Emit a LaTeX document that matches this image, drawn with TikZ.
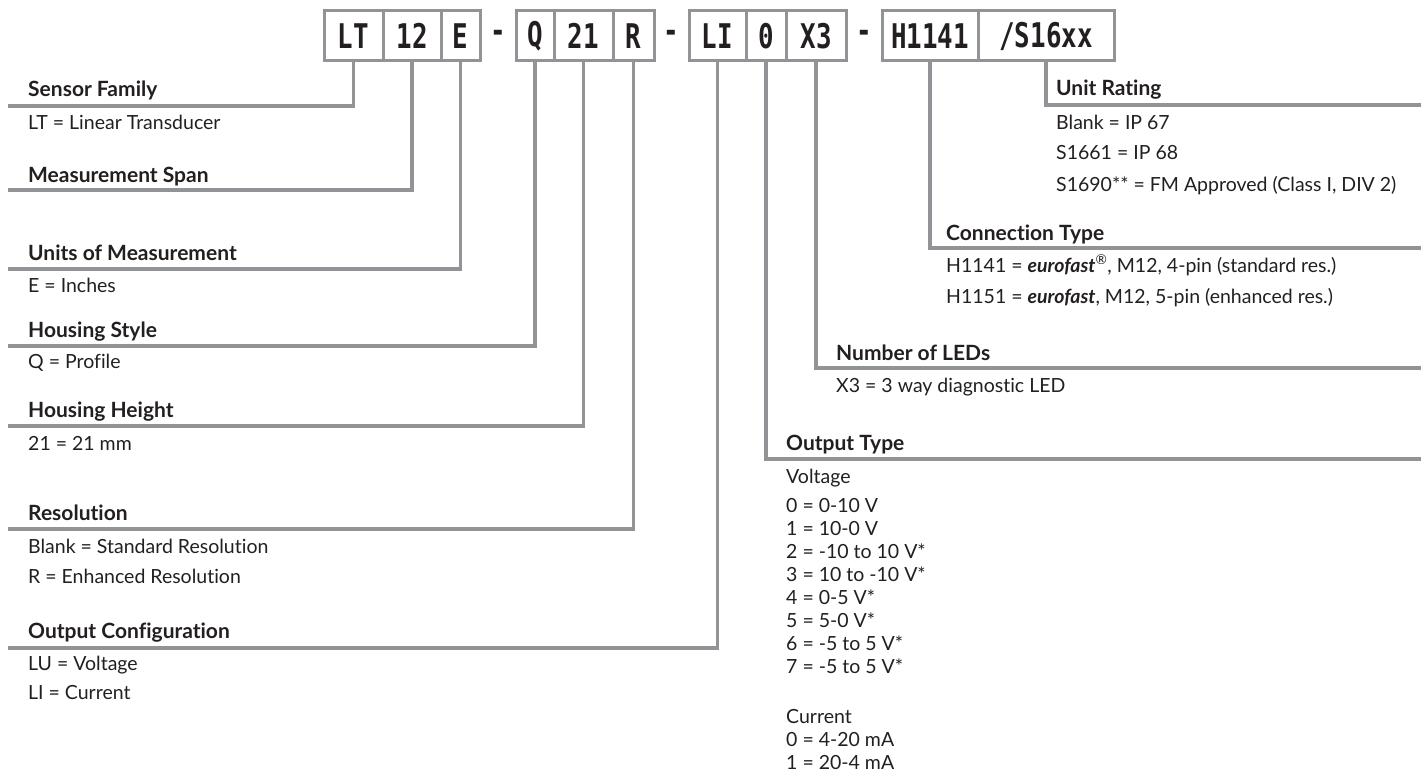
\documentclass[tikz,border=0pt]{standalone}
\usepackage{fontspec}
\setmainfont{Lato}[Ligatures=NoCommon]
\newfontfamily\codefont[FakeStretch=0.76]{DejaVu Sans Mono}
\usetikzlibrary{positioning}
\definecolor{rulegray}{RGB}{146,147,151}
\definecolor{ink}{RGB}{35,31,32}
\tikzset{
  cell/.style={draw=rulegray,line width=3pt,minimum height=50pt,inner sep=0pt,outer sep=0pt,text=ink,font=\codefont\bfseries\fontsize{34}{36}\selectfont},
  gap/.style={minimum width=36pt,minimum height=50pt,inner sep=0pt,outer sep=0pt,text=ink,font=\codefont\bfseries\fontsize{34}{36}\selectfont},
  lead/.style={rulegray,line width=3.5pt},
  head/.style={anchor=base west,inner sep=0pt,text=ink,font=\fontsize{21}{24}\selectfont\bfseries},
  item/.style={anchor=base west,inner sep=0pt,text=ink,font=\fontsize{19.5}{23}\selectfont}
}
\newcommand\eurofast{\textbf{\textit{eurofast}}}

\begin{document}
\begin{tikzpicture}[x=1pt,y=-1pt]
\useasboundingbox(0,0)rectangle(1421,773);
\node[cell,minimum width=59pt](lt)at(353.5,36){LT};\node[cell,minimum width=58pt,right=0pt of lt](span){12};\node[cell,minimum width=39pt,right=0pt of span](unit){E};
\node[gap,right=0pt of unit](d1){-};
\node[cell,minimum width=38pt,right=0pt of d1](hs){Q};\node[cell,minimum width=59pt,right=0pt of hs](hh){21};\node[cell,minimum width=41pt,right=0pt of hh](res){R};
\node[gap,minimum width=35pt,right=0pt of res](d2){-};
\node[cell,minimum width=57pt,right=0pt of d2](oc){LI};\node[cell,minimum width=40pt,right=0pt of oc](ot){0};\node[cell,minimum width=60pt,right=0pt of ot](led){X3};
\node[gap,right=0pt of led](d3){-};
\node[cell,minimum width=96pt,right=0pt of d3](conn){H1141};\node[cell,minimum width=136pt,right=0pt of conn](rate){/S16xx};
\coordinate(sf)at(8,106);\coordinate(ms)at(8,190);\coordinate(um)at(8,269);\coordinate(st)at(8,346);\coordinate(ht)at(8,426);\coordinate(rl)at(8,529);\coordinate(cf)at(8,648);
\draw[lead](lt.south)|-(sf);\draw[lead](span.south)|-(ms);\draw[lead](unit.south)|-(um);\draw[lead](hs.south)|-(st);\draw[lead](hh.south)|-(ht);\draw[lead](res.south)|-(rl);\draw[lead](oc.south)|-(cf);
\coordinate(ur)at(1421,105);\coordinate(ct)at(1421,248);\coordinate(nl)at(1421,368);\coordinate(ty)at(1421,459);
\draw[lead](rate.south)|-(ur);\draw[lead](conn.south)|-(ct);\draw[lead](led.south)|-(nl);\draw[lead](ot.south)|-(ty);
\node[head](sfh)at(28,97){Sensor Family};\node[item](sf1)at(28,130){LT = Linear Transducer};
\node[head](msh)at(28,182){Measurement Span};
\node[head](umh)at(28,260){Units of Measurement};\node[item](um1)at(28,292){E = Inches};
\node[head](sth)at(28,337){Housing Style};\node[item](st1)at(28,368){Q = Profile};
\node[head](hth)at(28,417){Housing Height};\node[item](ht1)at(28,450){21 = 21 mm};
\node[head](rlh)at(28,520){Resolution};\node[item](rl1)at(28,553){Blank = Standard Resolution};\node[item](rl2)at(28,583){R = Enhanced Resolution};
\node[head](cfh)at(28,638){Output Configuration};\node[item](cf1)at(28,670){LU = Voltage};\node[item](cf2)at(28,699){LI = Current};
\node[head](urh)at(1056,96){Unit Rating};\node[item](ur1)at(1056,129){Blank = IP 67};\node[item](ur2)at(1056,160){S1661 = IP 68};\node[item](ur3)at(1056,191){S1690** = FM Approved (Class I, DIV 2)};
\node[head](cth)at(946,240){Connection Type};\node[item](ct1)at(946,272){H1141 = \eurofast\textsuperscript{\textregistered}, M12, 4-pin (standard res.)};\node[item](ct2)at(946,303){H1151 = \eurofast, M12, 5-pin (enhanced res.)};
\node[head](nlh)at(836,360){Number of LEDs};\node[item](nl1)at(836,392){X3 = 3 way diagnostic LED};
\node[head](tyh)at(786,450){Output Type};\node[item](ty0)at(786,483){Voltage};
\node[item](v0)at(786,512){0 = 0-10 V};\node[item](v1)at(786,535){1 = 10-0 V};\node[item](v2)at(786,558){2 = -10 to 10 V*};\node[item](v3)at(786,581){3 = 10 to -10 V*};
\node[item](v4)at(786,604){4 = 0-5 V*};\node[item](v5)at(786,627){5 = 5-0 V*};\node[item](v6)at(786,650){6 = -5 to 5 V*};\node[item](v7)at(786,673){7 = -5 to 5 V*};
\node[item](ty1)at(786,723){Current};\node[item](c0)at(786,746){0 = 4-20 mA};\node[item](c1)at(786,769){1 = 20-4 mA};
\end{tikzpicture}
\end{document}
